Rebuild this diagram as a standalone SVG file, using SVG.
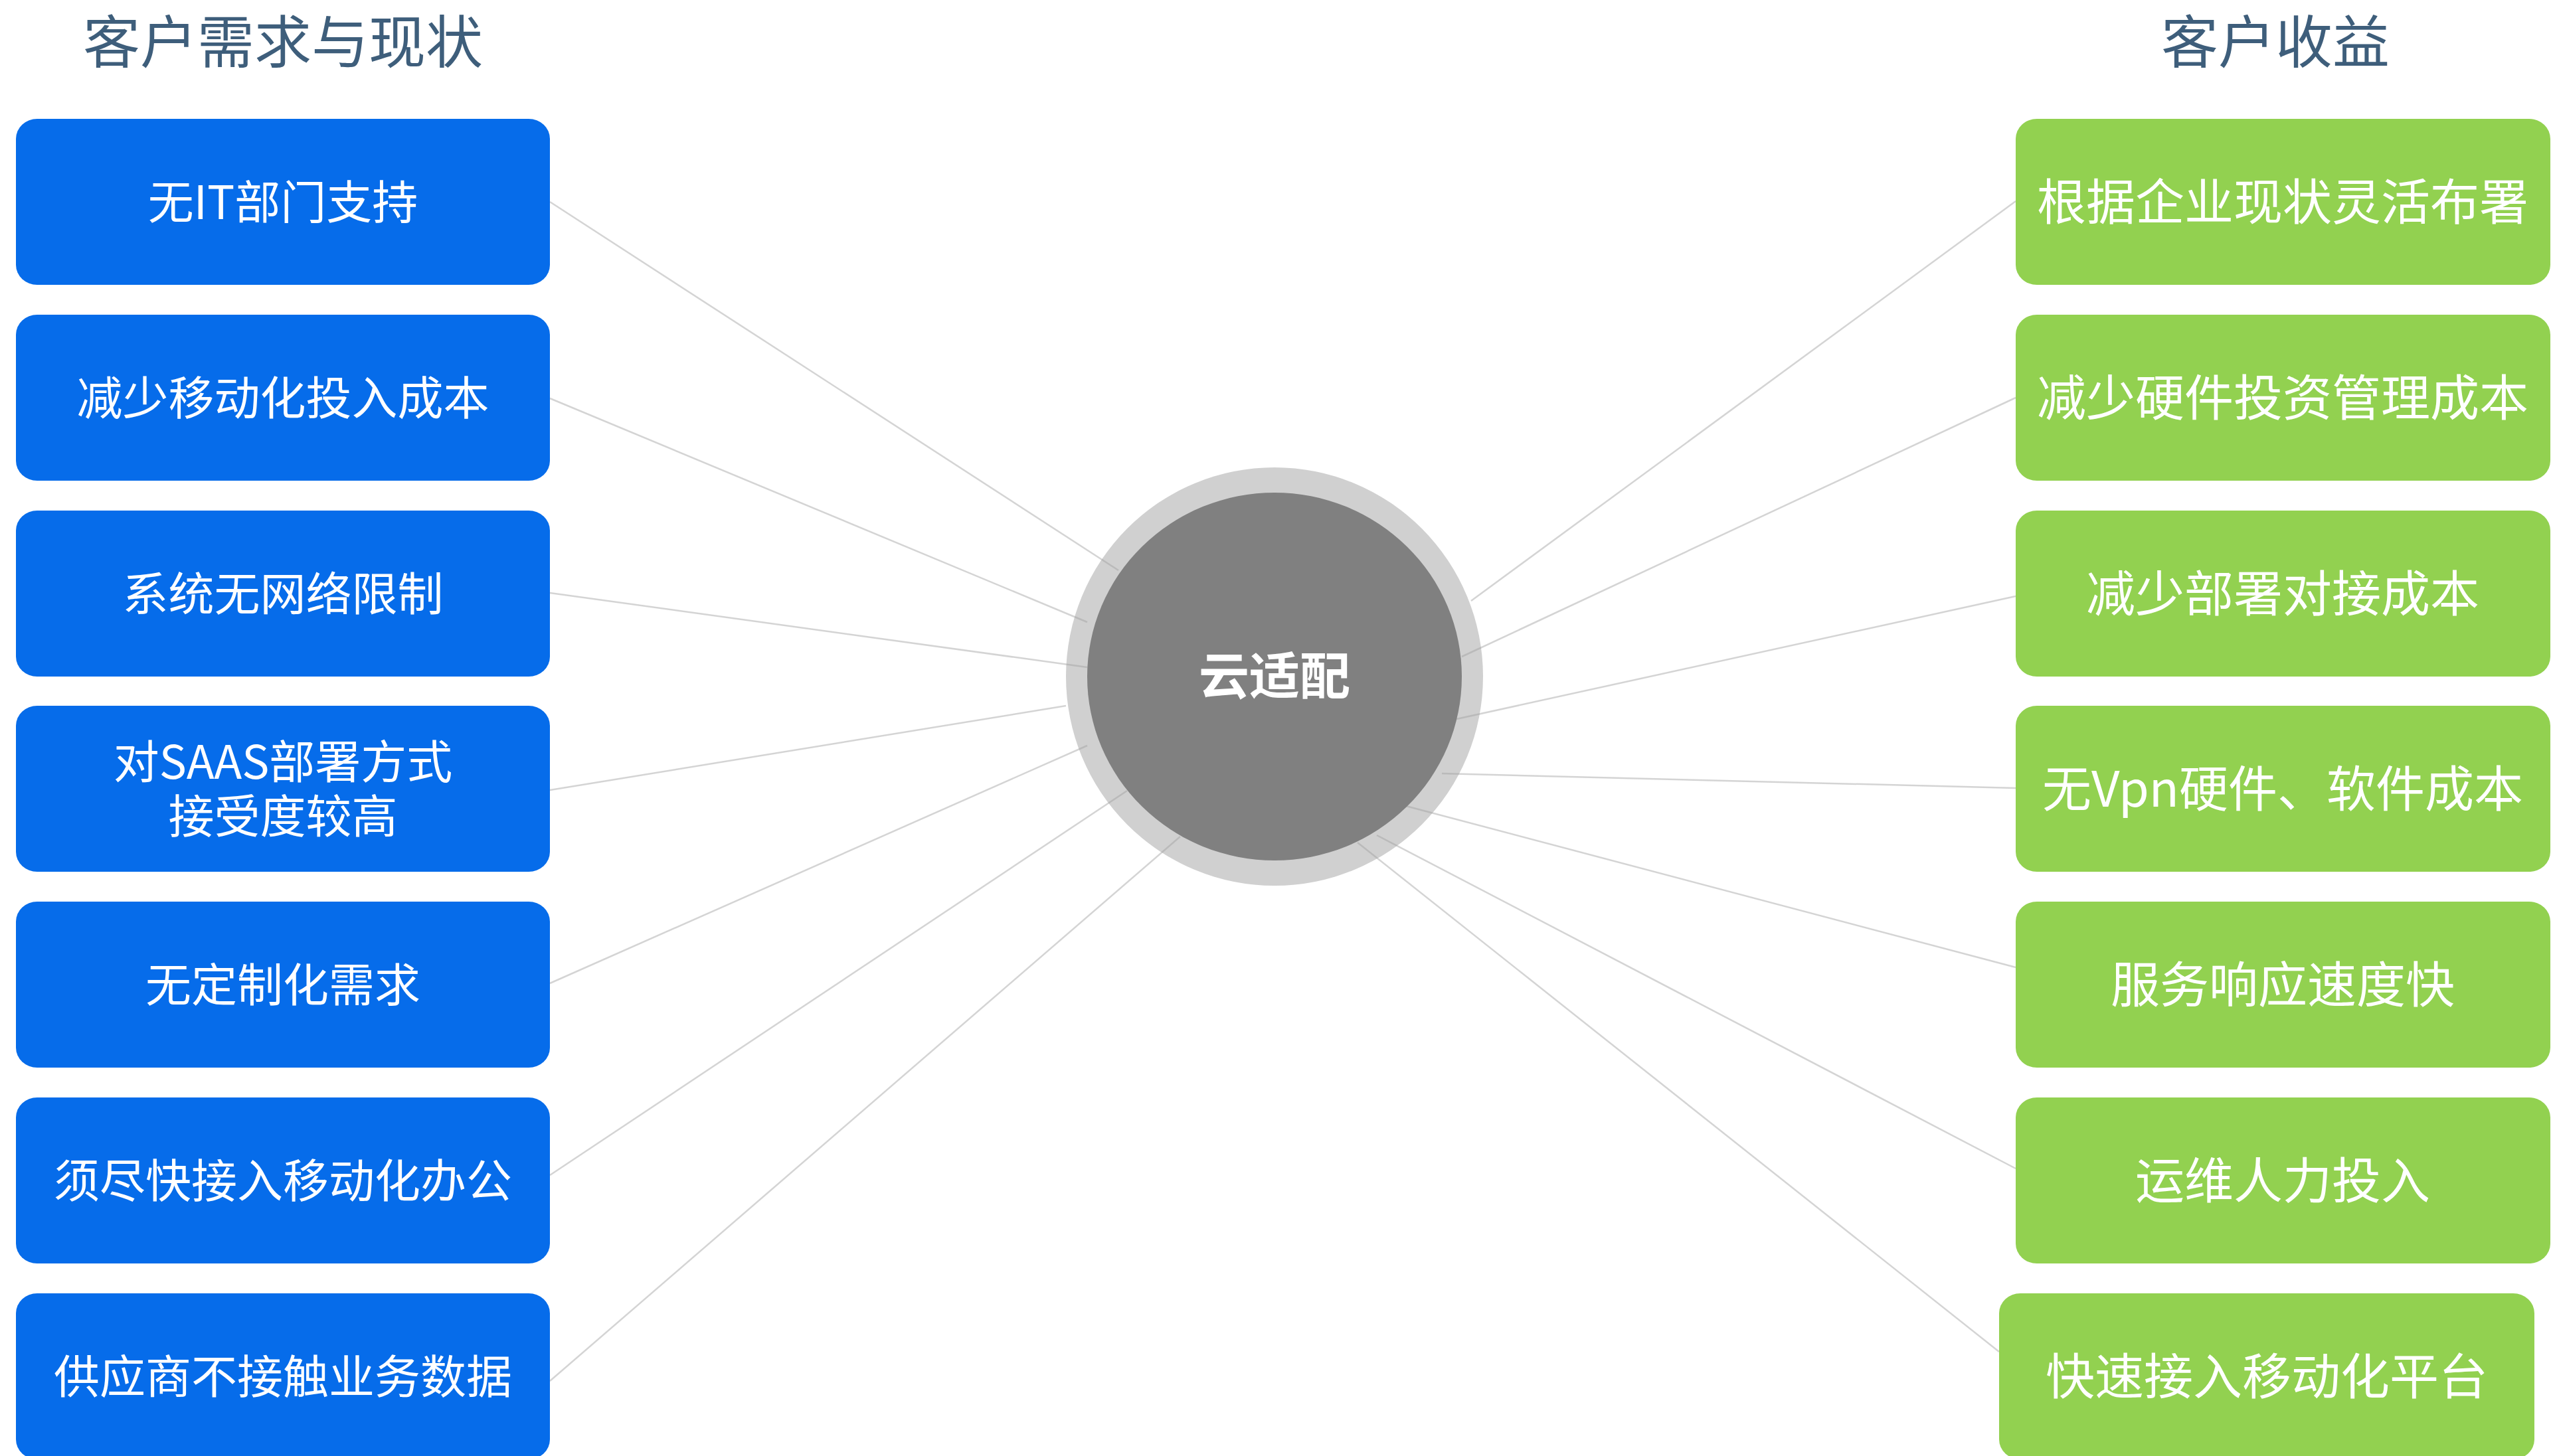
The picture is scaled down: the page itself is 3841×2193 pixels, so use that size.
<svg xmlns="http://www.w3.org/2000/svg" width="3841" height="2193" viewBox="0 0 3841 2193">
<style>
.title{font-family:"Noto Sans CJK SC","Liberation Sans",sans-serif;font-size:86px;fill:#3E5E7B;text-anchor:middle}
.lbox{fill:#066CEA}
.rbox{fill:#92D150}
.lt{font-family:"Noto Sans CJK SC","Liberation Sans",sans-serif;font-size:69px;fill:#FFFFFF;text-anchor:middle}
.rt{font-family:"Noto Sans CJK SC","Liberation Sans",sans-serif;font-size:74px;fill:#FFFFFF;text-anchor:middle}
.conn line{stroke:#A0A0A0;stroke-opacity:0.45;stroke-width:2.5}
.ct{font-family:"Noto Sans CJK SC","Liberation Sans",sans-serif;font-size:76px;font-weight:bold;fill:#FFFFFF;text-anchor:middle}
</style>
<rect width="3841" height="2193" fill="#FFFFFF"/>
<text class="title" x="426" y="95">客户需求与现状</text>
<text class="title" x="3426" y="95">客户收益</text>

<ellipse id="ring" cx="1919" cy="1019" rx="314" ry="315" fill="#D0D0D0"/>

<g id="connectors" class="conn">
<line x1="828" y1="304" x2="1684" y2="859"/>
<line x1="828" y1="600" x2="1637" y2="937"/>
<line x1="828" y1="893" x2="1637" y2="1005"/>
<line x1="828" y1="1190" x2="1605" y2="1063"/>
<line x1="828" y1="1481" x2="1637" y2="1123"/>
<line x1="828" y1="1770" x2="1697" y2="1191"/>
<line x1="828" y1="2080" x2="1777" y2="1260"/>
<line x1="3035" y1="303" x2="2215" y2="905"/>
<line x1="3035" y1="599" x2="2201" y2="989"/>
<line x1="3035" y1="898" x2="2193" y2="1083"/>
<line x1="3035" y1="1187" x2="2171" y2="1165"/>
<line x1="3035" y1="1457" x2="2117" y2="1214"/>
<line x1="3035" y1="1760" x2="2073" y2="1258"/>
<line x1="3010" y1="2036" x2="2044" y2="1269"/>
</g>

<g id="center">
<ellipse cx="1919" cy="1019" rx="282" ry="277" fill="#808080"/>
<text class="ct" x="1919" y="1046">云适配</text>
</g>

<g id="l1"><rect class="lbox" x="24" y="179" width="804" height="250" rx="32" ry="30"/><text class="lt" x="426" y="330">无IT部门支持</text></g>
<g id="l2"><rect class="lbox" x="24" y="474" width="804" height="250" rx="32" ry="30"/><text class="lt" x="426" y="625">减少移动化投入成本</text></g>
<g id="l3"><rect class="lbox" x="24" y="769" width="804" height="250" rx="32" ry="30"/><text class="lt" x="426" y="920">系统无网络限制</text></g>
<g id="l4"><rect class="lbox" x="24" y="1063" width="804" height="250" rx="32" ry="30"/><text class="lt"><tspan x="426" y="1173">对SAAS部署方式</tspan><tspan x="426" y="1255">接受度较高</tspan></text></g>
<g id="l5"><rect class="lbox" x="24" y="1358" width="804" height="250" rx="32" ry="30"/><text class="lt" x="426" y="1509">无定制化需求</text></g>
<g id="l6"><rect class="lbox" x="24" y="1653" width="804" height="250" rx="32" ry="30"/><text class="lt" x="426" y="1804">须尽快接入移动化办公</text></g>
<g id="l7"><rect class="lbox" x="24" y="1948" width="804" height="250" rx="32" ry="30"/><text class="lt" x="426" y="2099">供应商不接触业务数据</text></g>

<g id="r1"><rect class="rbox" x="3035" y="179" width="805" height="250" rx="32" ry="30"/><text class="rt" x="3437" y="331">根据企业现状灵活布署</text></g>
<g id="r2"><rect class="rbox" x="3035" y="474" width="805" height="250" rx="32" ry="30"/><text class="rt" x="3437" y="626">减少硬件投资管理成本</text></g>
<g id="r3"><rect class="rbox" x="3035" y="769" width="805" height="250" rx="32" ry="30"/><text class="rt" x="3437" y="921">减少部署对接成本</text></g>
<g id="r4"><rect class="rbox" x="3035" y="1063" width="805" height="250" rx="32" ry="30"/><text class="rt" x="3437" y="1215">无Vpn硬件、软件成本</text></g>
<g id="r5"><rect class="rbox" x="3035" y="1358" width="805" height="250" rx="32" ry="30"/><text class="rt" x="3437" y="1510">服务响应速度快</text></g>
<g id="r6"><rect class="rbox" x="3035" y="1653" width="805" height="250" rx="32" ry="30"/><text class="rt" x="3437" y="1805">运维人力投入</text></g>
<g id="r7"><rect class="rbox" x="3010" y="1948" width="806" height="250" rx="32" ry="30"/><text class="rt" x="3413" y="2100">快速接入移动化平台</text></g>
</svg>
